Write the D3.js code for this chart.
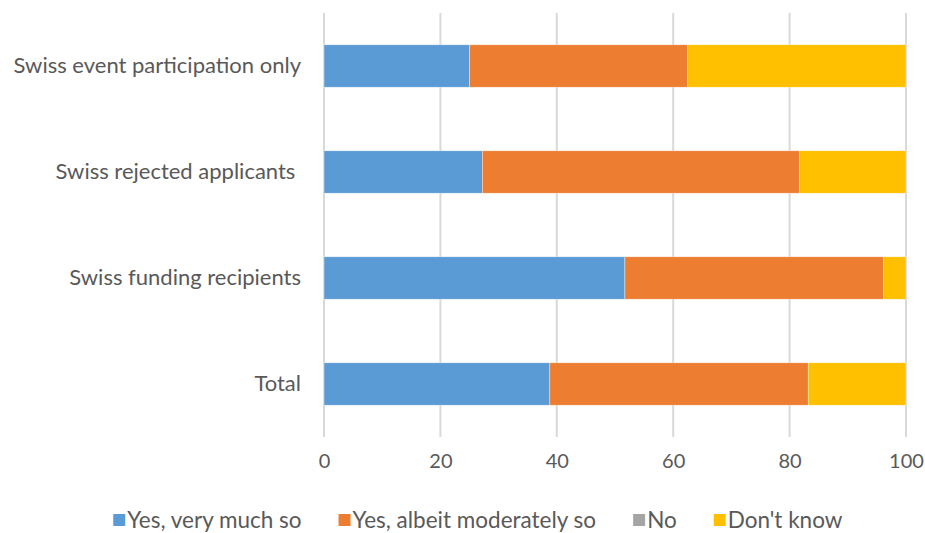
<!DOCTYPE html>
<html>
<head>
<meta charset="utf-8">
<script src="https://cdn.jsdelivr.net/npm/d3@7"></script>
<style>
  html, body { margin: 0; padding: 0; background: #fff; }
  svg text { font-family: Lato, "Open Sans", sans-serif; fill: #595959; }
</style>
</head>
<body>
<svg id="chart" width="925" height="533"></svg>
<script>
// Survey groups, top to bottom
const categories = [
  "Swiss event participation only",
  "Swiss rejected applicants ",
  "Swiss funding recipients",
  "Total"
];
const seriesNames = ["Yes, very much so", "Yes, albeit moderately so", "No", "Don't know"];
const yesVeryMuch = [25.0, 27.2, 51.7, 38.8];
const yesModerately = [37.5, 54.5, 44.4, 44.4];
const no = [0, 0, 0, 0];
const dontKnow = [37.5, 18.3, 3.9, 16.8];
const xTicks = [0, 20, 40, 60, 80, 100];
const colors = ["#5B9BD5", "#ED7D31", "#A5A5A5", "#FFC000"];

const svg = d3.select("#chart");
const margin = { left: 324, right: 19, top: 13, bottom: 96 };
const W = 925, H = 533;

const x = d3.scaleLinear().domain([0, 100]).range([margin.left, W - margin.right]);
const y = d3.scaleBand().domain(categories).range([margin.top, H - margin.bottom]).paddingInner(0.6).paddingOuter(0.3);

const rows = categories.map((c, i) => ({
  cat: c,
  [seriesNames[0]]: yesVeryMuch[i],
  [seriesNames[1]]: yesModerately[i],
  [seriesNames[2]]: no[i],
  [seriesNames[3]]: dontKnow[i]
}));
const stacked = d3.stack().keys(seriesNames)(rows);

// vertical gridlines
svg.append("g")
  .selectAll("line")
  .data(xTicks)
  .join("line")
  .attr("x1", d => x(d)).attr("x2", d => x(d))
  .attr("y1", margin.top).attr("y2", H - margin.bottom)
  .attr("stroke", "#d9d9d9").attr("stroke-width", 2);

// stacked bars
svg.append("g")
  .selectAll("g")
  .data(stacked)
  .join("g")
  .attr("fill", (d, i) => colors[i])
  .selectAll("rect")
  .data(d => d)
  .join("rect")
  .attr("x", d => x(d[0]))
  .attr("y", d => y(d.data.cat))
  .attr("width", d => x(d[1]) - x(d[0]))
  .attr("height", y.bandwidth())
  .attr("stroke", "#fff")
  .attr("stroke-width", 0.6)
  .attr("stroke-opacity", 0.6);

// x axis tick labels
const xAxis = d3.axisBottom(x).tickValues(xTicks).tickSize(0).tickPadding(0).tickFormat(d3.format("d"));
const gx = svg.append("g").attr("transform", `translate(0,${H - margin.bottom + 17})`).call(xAxis);
gx.select(".domain").remove();
gx.selectAll("text").attr("font-size", 20).attr("font-family", null).style("fill", "#595959");

// category labels
const yAxis = d3.axisLeft(y).tickSize(0).tickPadding(23);
const gy = svg.append("g").attr("transform", `translate(${margin.left},0)`).call(yAxis);
gy.select(".domain").remove();
gy.selectAll("text").attr("font-size", 22).attr("font-family", null).style("fill", "#595959").style("white-space", "pre");

// legend
const legend = svg.append("g").attr("transform", "translate(0,520)");
const items = legend.selectAll("g").data(seriesNames).join("g");
items.append("rect").attr("width", 12).attr("height", 12).attr("y", -6).attr("fill", (d, i) => colors[i]);
items.append("text").attr("x", 14).attr("dy", "0.35em").attr("font-size", 22.5).text(d => d);
const gap = 37;
let widths = [];
items.each(function () { widths.push(this.getBBox().width); });
const total = d3.sum(widths) + gap * (widths.length - 1);
let cx = 478 - total / 2;
items.attr("transform", (d, i) => {
  const t = `translate(${cx},0)`;
  cx += widths[i] + gap;
  return t;
});
</script>
</body>
</html>
